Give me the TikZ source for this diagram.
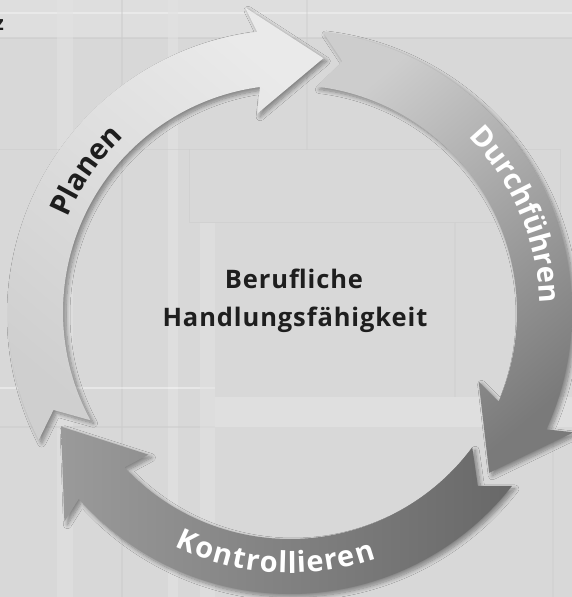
\documentclass[tikz,border=0pt]{standalone}
\usepackage{fontspec}
\setmainfont{Open Sans}
\usetikzlibrary{decorations.text,shadows.blur}
\definecolor{bgbase}{HTML}{D8D8D8}
\definecolor{bglight}{HTML}{E2E2E2}
\definecolor{bgdark}{HTML}{CCCCCC}
\definecolor{txtdark}{HTML}{1E1E1E}
\definecolor{planA}{HTML}{EAEAEA}
\definecolor{planB}{HTML}{CFCFCF}
\definecolor{durA}{HTML}{CDCDCD}
\definecolor{durB}{HTML}{7A7A7A}
\definecolor{konA}{HTML}{9A9A9A}
\definecolor{konB}{HTML}{686868}
\newcommand{\cycarrow}[9]{%
  \path[#1] (#2:282) arc[start angle=#2, end angle=#5, radius=282]
    -- (#7:308) -- (#9:256) -- (#8:201) -- (#6:227)
    arc[start angle=#6, end angle=#3, radius=227] -- (#4:256) -- cycle;}
\newcommand{\arcfont}{\fontsize{29}{29}\selectfont\bfseries}
\newcommand{\midfont}{\fontsize{25.5}{25.5}\selectfont\bfseries\addfontfeature{LetterSpace=3.5}}
\tikzset{
  cycshape/.style={blur shadow={shadow xshift=3pt, shadow yshift=-3pt, shadow opacity=40, shadow blur steps=10, shadow blur radius=4pt}},
  midtext/.style={text=txtdark, font=\midfont, inner sep=0pt, anchor=base},
  arclabel/.style n args={2}{decorate, decoration={text effects along path, text={#1},
      text effects/.cd, text along path, fit text to path,
      every character/.append style={font=\arcfont, text=#2}}},
}
\begin{document}
\begin{tikzpicture}[x=1pt, y=1pt]
\useasboundingbox (-290,-285) rectangle (282,312);
% background in pixel coordinates
\begin{scope}[shift={(-290,312)}, yscale=-1]
  \fill[bgbase] (0,0) rectangle (572,597);
  \fill[bglight, opacity=0.6] (0,0) rectangle (572,38);
  \draw[white, opacity=0.35, line width=2pt] (0,13) -- (572,13);
  \draw[bgdark, opacity=0.6, line width=1.5pt] (0,38) -- (572,38);
  \fill[bglight, opacity=0.5] (57,0) rectangle (73,597);
  \draw[bgdark, opacity=0.5, line width=1.5pt] (122,0) -- (122,597);
  \fill[bglight, opacity=0.6] (168,0) rectangle (178,597);
  \draw[bgdark, opacity=0.4, line width=1.5pt] (307,0) -- (307,150);
  \draw[bgdark, opacity=0.5, line width=1pt] (190,150) rectangle (560,223);
  \draw[bgdark, opacity=0.5, line width=1pt] (0,150) -- (190,150);
  \fill[bglight, opacity=0.7] (215,397) rectangle (572,427);
  \draw[white, opacity=0.4, line width=2pt] (0,388) -- (215,388);
  \draw[bgdark, opacity=0.5, line width=1.5pt] (0,427) -- (215,427);
  \draw[bgdark, opacity=0.4, line width=1.5pt] (553,427) -- (553,597);
  \draw[bgdark, opacity=0.4, line width=1.5pt] (455,223) -- (455,397);
  \fill[bglight, opacity=0.5] (200,223) rectangle (215,597);
\end{scope}
% cut-off letter at the top-left corner
\node[text=txtdark, font=\fontsize{20}{20}\selectfont\bfseries, inner sep=0pt, anchor=base east] (corner) at (-286,281) {z};
% three cycle arrows
\cycarrow{cycshape, top color=planA, bottom color=planB, shading angle=-40}{207}{208.5}{202.5}{96.7}{97.6}{98.4}{99.4}{82.5}
\cycarrow{cycshape, top color=durA, bottom color=durB, shading angle=40}{83.3}{83.3}{78.2}{-24.6}{-23.2}{-23}{-20.2}{-38.9}
\cycarrow{cycshape, left color=konA, right color=konB}{-38.1}{-36.6}{-42.8}{-138.5}{-136.8}{-137.1}{-134.8}{-153.4}
% arc labels
\path[arclabel={Planen}{txtdark}]
  (157:241) arc[start angle=157, end angle=133.5, radius=241];
\path[arclabel={Durchführen}{white}]
  (44.5:250) arc[start angle=44.5, end angle=2, radius=250];
\path[arclabel={Kontrollieren}{white}]
  (243.7:261) arc[start angle=243.7, end angle=289.3, radius=261];
% centre text
\node[midtext] (beruf) at (4,23) {Berufliche};
\node[midtext] (handl) at (5,-15) {Handlungsfähigkeit};
\end{tikzpicture}
\end{document}
